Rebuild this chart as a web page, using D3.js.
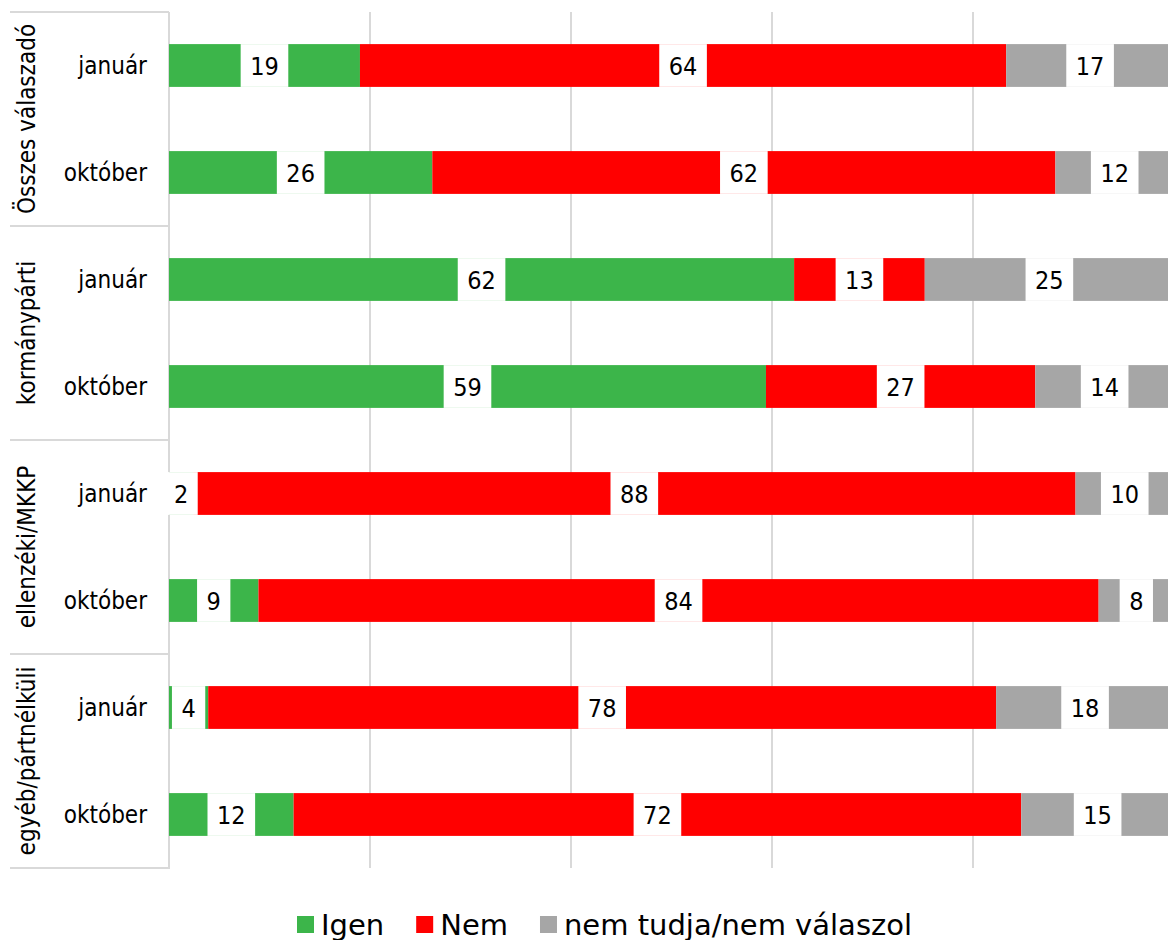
<!DOCTYPE html>
<html>
<head>
<meta charset="utf-8">
<script src="https://cdn.jsdelivr.net/npm/d3@7/dist/d3.min.js"></script>
<style>
  html, body { margin: 0; padding: 0; background: #fff; }
  svg { display: block; }
  text { font-family: "DejaVu Sans Condensed", "DejaVu Sans", sans-serif; fill: #000; }
</style>
</head>
<body>
<svg id="chart" width="1168" height="940"></svg>
<script>
// ---- data ----
const groups = ["Összes válaszadó", "kormánypárti", "ellenzéki/MKKP", "egyéb/pártnélküli"];
const periods = ["január", "október"];
const seriesNames = ["Igen", "Nem", "nem tudja/nem válaszol"];
const seriesColors = ["#3cb54a", "#ff0000", "#a6a6a6"];
// values per row (group x period), in row order
const igen = [19.0, 26.2, 62.2, 59.4, 2.4, 8.9, 3.9, 12.4];
const nem = [64.3, 62.0, 13.0, 26.8, 87.8, 83.6, 78.4, 72.4];
const nemTudja = [16.7, 11.8, 24.8, 13.8, 9.8, 7.5, 17.7, 15.2];
const xTicks = [0, 20, 40, 60, 80, 100];

(function () {
// ---- layout ----
const svg = d3.select("#chart");
const mLeft = 169, mTop = 12, mBottom = 868;
const x = d3.scaleLinear().domain([0, 100]).range([mLeft, mLeft + 1005]);

const rows = [];
groups.forEach((g, gi) => periods.forEach((p, pi) => {
  const i = gi * periods.length + pi;
  rows.push({ key: g + "|" + p, group: g, period: p, vals: [igen[i], nem[i], nemTudja[i]] });
}));

const y = d3.scaleBand().domain(rows.map(r => r.key)).range([mTop, mBottom]).paddingInner(0.6).paddingOuter(0.3);
const yGroup = d3.scaleBand().domain(groups).range([mTop, mBottom]);

const gridColor = "#d9d9d9";

// gridlines
svg.append("g").selectAll("line").data(xTicks.slice(1)).join("line")
  .attr("x1", d => x(d)).attr("x2", d => x(d))
  .attr("y1", mTop).attr("y2", mBottom)
  .attr("stroke", gridColor).attr("stroke-width", 2);

// group separators in the label area
const sepYs = groups.map(g => yGroup(g)).concat([mBottom]);
svg.append("g").selectAll("line").data(sepYs).join("line")
  .attr("x1", 10).attr("x2", mLeft)
  .attr("y1", d => d).attr("y2", d => d)
  .attr("stroke", gridColor).attr("stroke-width", 2);

// axis line
svg.append("line").attr("x1", mLeft).attr("x2", mLeft).attr("y1", mTop).attr("y2", mBottom + 1)
  .attr("stroke", gridColor).attr("stroke-width", 2);

// stacked bars
const segs = [];
rows.forEach(r => {
  let acc = 0;
  r.vals.forEach((v, si) => {
    segs.push({ row: r, si, x0: acc, x1: acc + v, v });
    acc += v;
  });
});

svg.append("g").selectAll("rect").data(segs).join("rect")
  .attr("x", d => x(d.x0))
  .attr("width", d => x(d.x1) - x(d.x0))
  .attr("y", d => y(d.row.key))
  .attr("height", y.bandwidth())
  .attr("fill", d => seriesColors[d.si]);

// labels with white boxes
const lab = svg.append("g");
segs.forEach(d => {
  const cx = (x(d.x0) + x(d.x1)) / 2;
  const cy = y(d.row.key) + y.bandwidth() / 2;
  const g = lab.append("g");
  const rect = g.append("rect").attr("fill", "#fff");
  const t = g.append("text").attr("x", cx).attr("y", cy + 1)
    .attr("text-anchor", "middle").attr("dominant-baseline", "central")
    .style("font-size", "25px").text(Math.round(d.v));
  const w = t.node().getComputedTextLength() + 19;
  rect.attr("x", cx - w / 2).attr("width", w)
    .attr("y", y(d.row.key)).attr("height", y.bandwidth());
});

// period labels
svg.append("g").selectAll("text").data(rows).join("text")
  .attr("x", 147).attr("y", d => y(d.key) + y.bandwidth() / 2)
  .attr("text-anchor", "end").attr("dominant-baseline", "central")
  .style("font-size", "24px").text(d => d.period);

// group labels (rotated)
svg.append("g").selectAll("text").data(groups).join("text")
  .attr("transform", d => `translate(35,${yGroup(d) + yGroup.bandwidth() / 2}) rotate(-90)`)
  .attr("text-anchor", "middle")
  .style("font-size", "24px").text(d => d);

// legend
const legend = svg.append("g");
let lx = 297;
seriesNames.forEach((n, i) => {
  legend.append("rect").attr("x", lx).attr("y", 916).attr("width", 17).attr("height", 17)
    .attr("fill", seriesColors[i]);
  const t = legend.append("text").attr("x", lx + 24).attr("y", 924.5)
    .attr("dominant-baseline", "central")
    .style("font-family", "'DejaVu Sans', sans-serif")
    .style("font-size", "29px").text(n);
  lx += 24 + t.node().getComputedTextLength() + 32;
});
})();
</script>
</body>
</html>
